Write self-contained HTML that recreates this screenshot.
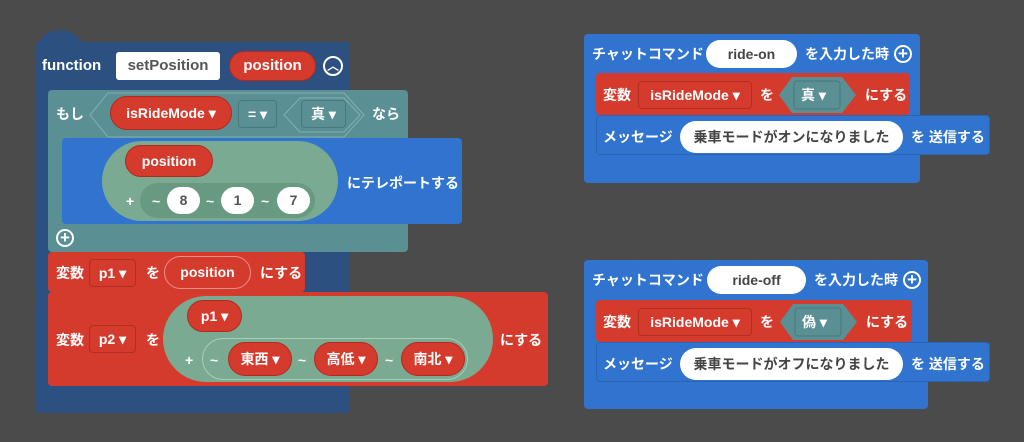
<!DOCTYPE html>
<html><head><meta charset="utf-8"><style>
body{margin:0;width:1024px;height:442px;background:#4b4b4b;overflow:hidden;position:relative;
font-family:"Liberation Sans","Noto Sans CJK JP",sans-serif;font-weight:bold;font-size:14px;color:#fff}
div,span{position:absolute;box-sizing:border-box}
.t{white-space:nowrap;line-height:20px;margin-top:-10px}
.fb{background:#2c5181;border-radius:4px}
.teal{background:#5a8f93;border-radius:4px}
.blue{background:#3174cf;border-radius:4px}
.red{background:#d53b2d;border-radius:4px}
.pill{border-radius:20px;text-align:center;white-space:nowrap}
.rp{background:#d53b2d;border:1px solid #b3291f}
.gp{background:#7aab92}
.wp{background:#fff;color:#555;border-radius:16px;text-align:center}
.dd{border:1px solid #b02e22;border-radius:4px;text-align:center}
.plus{width:18px;height:18px;border:2px solid #fff;border-radius:50%;text-align:center;line-height:13px;font-size:17px}
</style></head><body>
<svg style="position:absolute;left:0;top:0" width="1024" height="442"><defs><pattern id="g" width="40" height="40" patternUnits="userSpaceOnUse"><path d="M40 0V40M0 40H40" stroke="#4e4e4e" stroke-width="1"/></pattern></defs><rect width="1024" height="442" fill="url(#g)"/></svg>

<div class="fb" style="left:35px;top:30px;width:50px;height:40px;border-radius:28px 28px 0 0"></div>
<div class="fb" style="left:35px;top:42px;width:315px;height:371px"></div>
<div class="t" style="left:42px;top:66px;font-size:15px">function</div>
<div style="left:116px;top:52px;width:104px;height:28px;background:#fff;color:#555;border-radius:3px;text-align:center;line-height:28px;font-size:15px">setPosition</div>
<div class="pill rp" style="left:229px;top:51px;width:87px;height:30px;line-height:28px;font-size:15px">position</div>
<div class="plus" style="left:323px;top:56px;width:20px;height:20px;line-height:16px;font-size:12px">︿</div>

<div class="teal" style="left:48px;top:90px;width:360px;height:162px"></div>
<div class="t" style="left:56px;top:114px">もし</div>
<svg style="position:absolute;left:88px;top:92px" width="278" height="46"><polygon points="20,1 256,1 276,23 256,45 20,45 2,23" fill="#5a8f93" stroke="#82b0b3" stroke-width="1"/><polygon points="212,6 256,6 272,23 256,40 212,40 196,23" fill="#5a8f93" stroke="#82b0b3"/></svg>
<div class="pill rp" style="left:110px;top:96px;width:122px;height:34px;line-height:32px">isRideMode ▾</div>
<div style="left:238px;top:100px;width:39px;height:28px;border:1px solid #477a7e;border-radius:4px;text-align:center;line-height:26px">= ▾</div>
<div style="left:301px;top:100px;width:45px;height:28px;border:1px solid #477a7e;border-radius:4px;text-align:center;line-height:26px">真 ▾</div>
<div class="t" style="left:372px;top:114px">なら</div>

<div class="blue" style="left:62px;top:138px;width:400px;height:86px"></div>
<div class="pill gp" style="left:102px;top:141px;width:236px;height:80px;border-radius:40px"></div>
<div class="pill rp" style="left:125px;top:145px;width:88px;height:32px;line-height:30px">position</div>
<div class="t" style="left:126px;top:201px">+</div>
<div style="left:140px;top:183px;width:175px;height:35px;background:#679a80;border-radius:18px"></div>
<div class="t" style="left:152px;top:201px">~</div>
<div class="wp" style="left:167px;top:187px;width:33px;height:27px;line-height:27px">8</div>
<div class="t" style="left:206px;top:201px">~</div>
<div class="wp" style="left:221px;top:187px;width:33px;height:27px;line-height:27px">1</div>
<div class="t" style="left:261px;top:201px">~</div>
<div class="wp" style="left:277px;top:187px;width:33px;height:27px;line-height:27px">7</div>
<div class="t" style="left:347px;top:183px">にテレポートする</div>
<div class="plus" style="left:56px;top:229px">+</div>

<div class="red" style="left:48px;top:252px;width:257px;height:40px"></div>
<div class="t" style="left:56px;top:273px">変数</div>
<div class="dd" style="left:89px;top:259px;width:47px;height:28px;line-height:26px">p1 ▾</div>
<div class="t" style="left:146px;top:273px">を</div>
<div class="pill" style="left:164px;top:256px;width:87px;height:33px;line-height:31px;border:1px solid #ec8f86">position</div>
<div class="t" style="left:260px;top:273px">にする</div>

<div class="red" style="left:48px;top:292px;width:500px;height:94px"></div>
<div class="t" style="left:56px;top:340px">変数</div>
<div class="dd" style="left:89px;top:325px;width:47px;height:28px;line-height:26px">p2 ▾</div>
<div class="t" style="left:146px;top:340px">を</div>
<div class="pill gp" style="left:163px;top:296px;width:330px;height:86px;border-radius:43px"></div>
<div class="pill rp" style="left:187px;top:300px;width:55px;height:32px;line-height:30px">p1 ▾</div>
<div class="t" style="left:185px;top:360px">+</div>
<div style="left:202px;top:338px;width:266px;height:42px;border:1px solid #a8cdb9;border-radius:21px"></div>
<div class="t" style="left:210px;top:360px">~</div>
<div class="pill rp" style="left:228px;top:342px;width:64px;height:34px;line-height:32px">東西 ▾</div>
<div class="t" style="left:298px;top:360px">~</div>
<div class="pill rp" style="left:314px;top:342px;width:64px;height:34px;line-height:32px">高低 ▾</div>
<div class="t" style="left:385px;top:360px">~</div>
<div class="pill rp" style="left:401px;top:342px;width:64px;height:34px;line-height:32px">南北 ▾</div>
<div class="t" style="left:500px;top:340px">にする</div>

<div class="blue" style="left:584px;top:34px;width:336px;height:149px"></div>
<div class="t" style="left:592px;top:54px">チャットコマンド</div>
<div class="wp" style="left:706px;top:40px;width:91px;height:28px;line-height:28px;color:#444">ride-on</div>
<div class="t" style="left:805px;top:54px">を入力した時</div>
<div class="plus" style="left:894px;top:45px">+</div>
<div class="red" style="left:596px;top:73px;width:314px;height:42px"></div>
<div class="t" style="left:603px;top:95px">変数</div>
<div class="dd" style="left:638px;top:81px;width:114px;height:28px;line-height:26px">isRideMode ▾</div>
<div class="t" style="left:760px;top:95px">を</div>
<svg style="position:absolute;left:778px;top:76px" width="80" height="38"><polygon points="14,1 64,1 78,19 64,37 14,37 1,19" fill="#5a8f93"/><rect x="16" y="5" width="46" height="28" rx="3" fill="none" stroke="#477a7e"/></svg>
<div class="t" style="left:801px;top:95px">真 ▾</div>
<div class="t" style="left:865px;top:95px">にする</div>
<div class="blue" style="left:596px;top:115px;width:394px;height:40px;border:1px solid #2a65b5"></div>
<div class="t" style="left:603px;top:137px">メッセージ</div>
<div class="wp" style="left:680px;top:121px;width:223px;height:32px;line-height:32px;color:#444">乗車モードがオンになりました</div>
<div class="t" style="left:911px;top:137px">を 送信する</div>

<div class="blue" style="left:584px;top:260px;width:344px;height:149px"></div>
<div class="t" style="left:592px;top:280px">チャットコマンド</div>
<div class="wp" style="left:707px;top:266px;width:99px;height:28px;line-height:28px;color:#444">ride-off</div>
<div class="t" style="left:814px;top:280px">を入力した時</div>
<div class="plus" style="left:903px;top:271px">+</div>
<div class="red" style="left:596px;top:300px;width:316px;height:42px"></div>
<div class="t" style="left:603px;top:322px">変数</div>
<div class="dd" style="left:638px;top:308px;width:114px;height:28px;line-height:26px">isRideMode ▾</div>
<div class="t" style="left:760px;top:322px">を</div>
<svg style="position:absolute;left:779px;top:303px" width="80" height="38"><polygon points="14,1 64,1 78,19 64,37 14,37 1,19" fill="#5a8f93"/><rect x="16" y="5" width="46" height="28" rx="3" fill="none" stroke="#477a7e"/></svg>
<div class="t" style="left:802px;top:322px">偽 ▾</div>
<div class="t" style="left:866px;top:322px">にする</div>
<div class="blue" style="left:596px;top:342px;width:394px;height:40px;border:1px solid #2a65b5"></div>
<div class="t" style="left:603px;top:364px">メッセージ</div>
<div class="wp" style="left:680px;top:348px;width:223px;height:32px;line-height:32px;color:#444">乗車モードがオフになりました</div>
<div class="t" style="left:911px;top:364px">を 送信する</div>
</body></html>
